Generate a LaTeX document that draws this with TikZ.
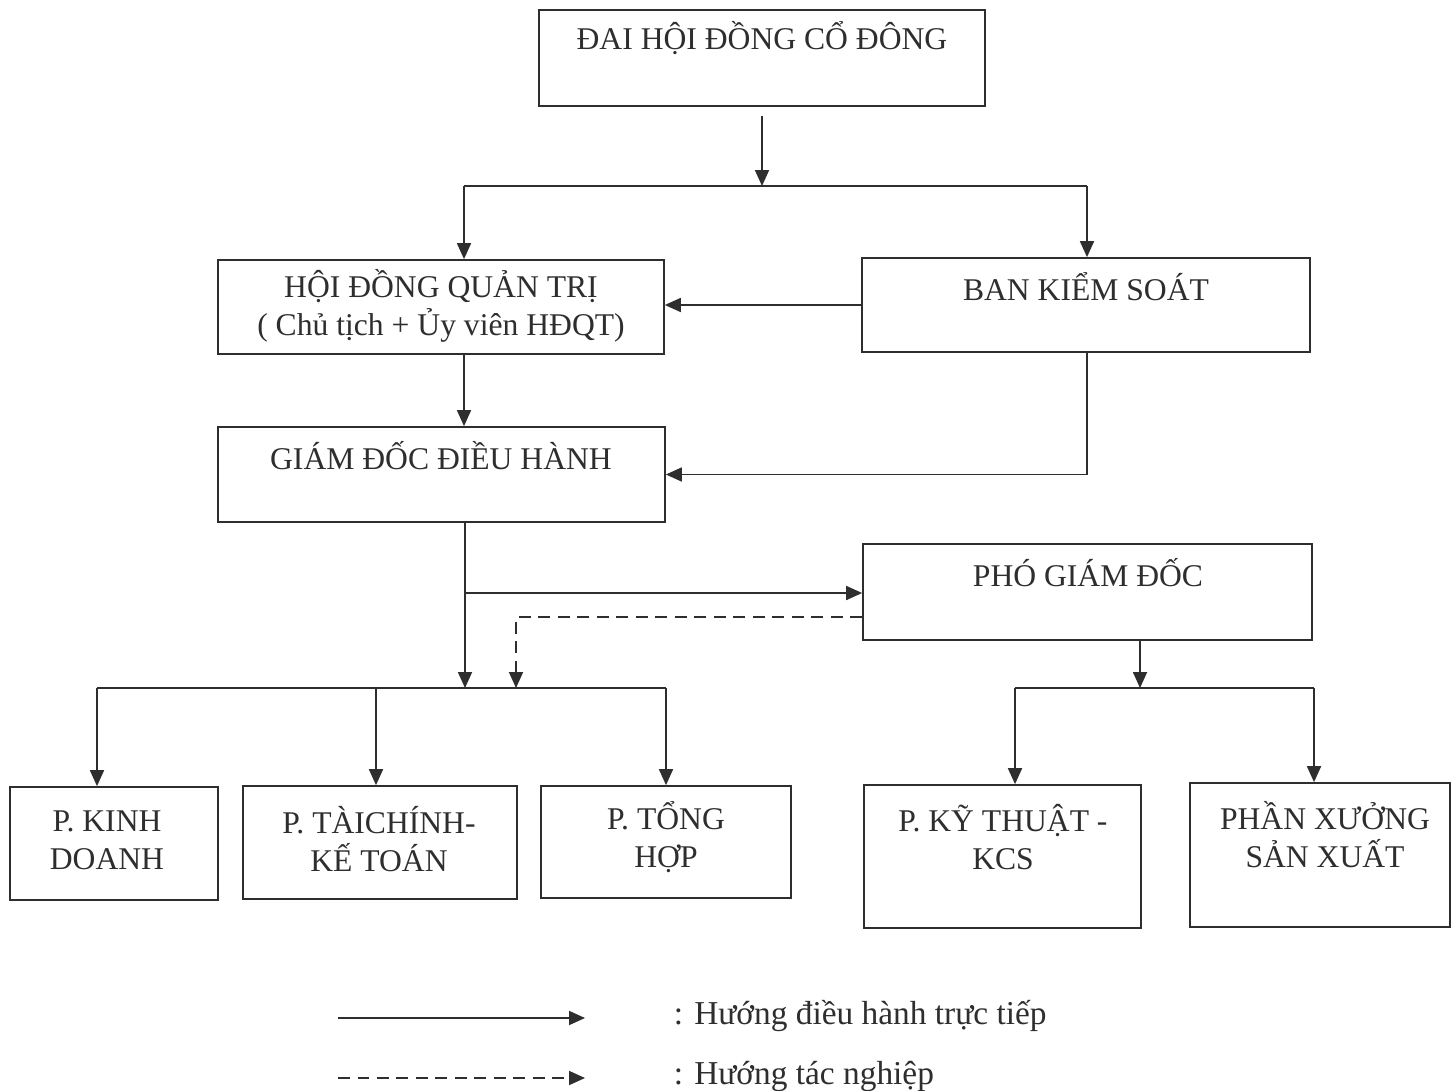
\documentclass[tikz,border=0pt]{standalone}
\usepackage{fontspec}
\setmainfont{Liberation Serif}
\usetikzlibrary{arrows.meta}
\definecolor{ink}{HTML}{2E2E2E}
\begin{document}
\begin{tikzpicture}[x=0.02cm, y=-0.02cm,
	line width=1pt, draw=ink,
	>={Triangle[length=0.32cm,width=0.28cm]},
	box/.style={draw=ink, line width=1pt, inner sep=0pt},
	txt/.style={text=ink, inner sep=0pt, align=center, font=\fontsize{18}{21.5}\selectfont},
	dashline/.style={dash pattern=on 0.24cm off 0.15cm}]
				\useasboundingbox[fill=white] (0,0) rectangle (1453,1091);

				\node[box, minimum width=8.92cm, minimum height=1.92cm] at (762,58) (dhdcd) {};
				\node[box, minimum width=8.92cm, minimum height=1.88cm] at (441,307) (hdqt) {};
				\node[box, minimum width=8.96cm, minimum height=1.88cm] at (1086,305) (bks) {};
				\node[box, minimum width=8.94cm, minimum height=1.90cm] at (441.5,474.5) (gddh) {};
				\node[box, minimum width=8.98cm, minimum height=1.92cm] at (1087.5,592) (pgd) {};
				\node[box, minimum width=4.16cm, minimum height=2.26cm] at (114,843.5) (pkd) {};
				\node[box, minimum width=5.48cm, minimum height=2.26cm] at (380,842.5) (ptc) {};
				\node[box, minimum width=5.00cm, minimum height=2.24cm] at (666,842) (pth) {};
				\node[box, minimum width=5.54cm, minimum height=2.86cm] at (1002.5,856.5) (pkt) {};
				\node[box, minimum width=5.20cm, minimum height=2.88cm] at (1320,855) (pxsx) {};

				\node[txt] at (762,38) (dhdcdtxt) {ĐAI HỘI ĐỒNG CỔ ĐÔNG};
				\node[txt] at (441,306) (hdqttxt) {HỘI ĐỒNG QUẢN TRỊ\\( Chủ tịch + Ủy viên HĐQT)};
				\node[txt] at (1086,287) (bkstxt) {BAN KIỂM SOÁT};
				\node[txt] at (441,456) (gddhtxt) {GIÁM ĐỐC ĐIỀU HÀNH};
				\node[txt] at (1088,573) (pgdtxt) {PHÓ GIÁM ĐỐC};
				\node[txt] at (107,840) (pkdtxt) {P. KINH\\DOANH};
				\node[txt] at (379,839) (ptctxt) {P. TÀICHÍNH-\\KẾ TOÁN};
				\node[txt] at (666,837) (pthtxt) {P. TỔNG\\HỢP};
				\node[txt] at (1003,837) (pkttxt) {P. KỸ THUẬT -\\KCS};
				\node[txt] at (1325,835) (pxsxtxt) {PHẦN XƯỞNG\\SẢN XUẤT};

				\coordinate (dhdcdout) at (762,116);
				\coordinate (split1) at (762,186);
				\coordinate (tohdqt) at (464,186);
				\coordinate (tobks) at (1087,186);
				\coordinate (topgd) at (465,593);
				\coordinate (dashbend) at (516,617);
				\coordinate (split2) at (465,688);
				\coordinate (lft) at (97,688);
				\coordinate (mid) at (376,688);
				\coordinate (rgt) at (666,688);
				\coordinate (split3) at (1140,688);
				\coordinate (lft2) at (1015,688);
				\coordinate (rgt2) at (1314,688);

				\draw[->] (dhdcdout)-- (split1);
				\draw (tohdqt)-- (tobks);
				\draw[->] (tohdqt)-- (tohdqt |- hdqt.north);
				\draw[->] (tobks)-- (tobks |- bks.north);
				\draw[->] (bks.west)-- (bks.west -| hdqt.east);
				\draw[->] (tohdqt |- hdqt.south)-- (tohdqt |- gddh.north);
				\draw[->] (tobks |- bks.south) |- (gddh.east);

				\draw[->] (split2 |- gddh.south)-- (split2);
				\draw[->] (topgd)-- (topgd -| pgd.west);
				\draw[->, dashline] (dashbend -| pgd.west)-- (dashbend)-- (dashbend |- split2);
				\draw (lft)-- (rgt);
				\draw[->] (lft)-- (lft |- pkd.north);
				\draw[->] (mid)-- (mid |- ptc.north);
				\draw[->] (rgt)-- (rgt |- pth.north);

				\draw[->] (split3 |- pgd.south)-- (split3);
				\draw (lft2)-- (rgt2);
				\draw[->] (lft2)-- (lft2 |- pkt.north);
				\draw[->] (rgt2)-- (rgt2 |- pxsx.north);

				\coordinate (leg1a) at (338,1018);
				\coordinate (leg1b) at (585,1018);
				\coordinate (leg2a) at (338,1078);
				\coordinate (leg2b) at (585,1078);
				\draw[->] (leg1a)-- (leg1b);
				\draw[->, dashline] (leg2a)-- (leg2b);
				\node[txt, anchor=west, font=\fontsize{19}{22}\selectfont] at (673,1016) (legsolid) {: Hướng điều hành trực tiếp};
				\node[txt, anchor=west, font=\fontsize{19}{22}\selectfont] at (673,1076) (legdash) {: Hướng tác nghiệp};
			\end{tikzpicture}
\end{document}
